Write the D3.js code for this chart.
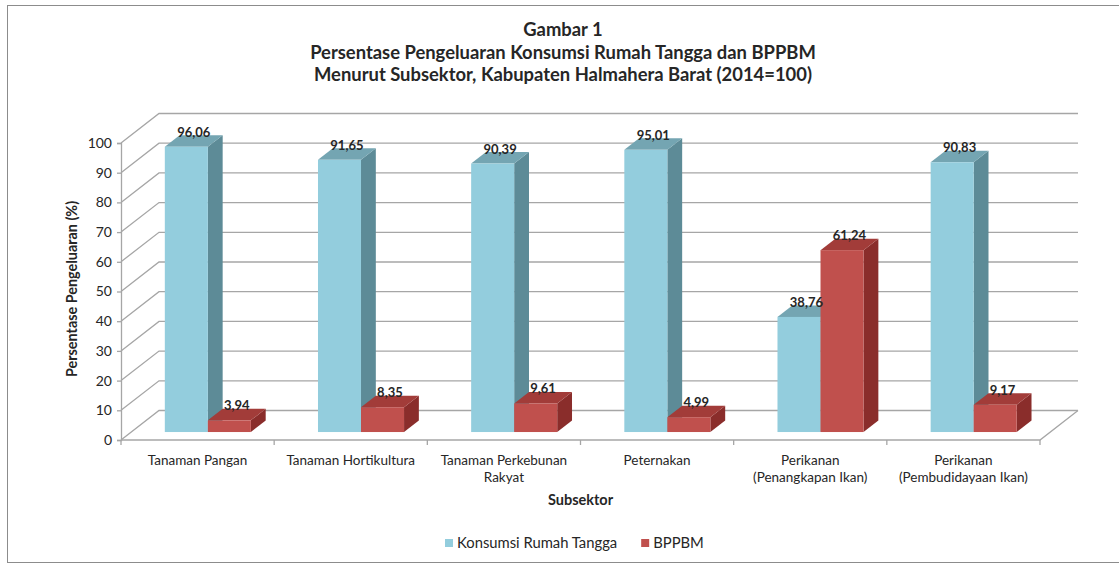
<!DOCTYPE html>
<html>
<head>
<meta charset="utf-8">
<script src="https://cdn.jsdelivr.net/npm/d3@7"></script>
<style>
  body { margin: 0; background: #fff; }
  text { font-family: Lato, "Open Sans", sans-serif; fill: #262626; }
</style>
</head>
<body>
<div id="chart"></div>
<script>
// data
var categories = [
  ["Tanaman Pangan"],
  ["Tanaman Hortikultura"],
  ["Tanaman Perkebunan", "Rakyat"],
  ["Peternakan"],
  ["Perikanan", "(Penangkapan Ikan)"],
  ["Perikanan", "(Pembudidayaan Ikan)"]
];
var seriesNames = ["Konsumsi Rumah Tangga", "BPPBM"];
var konsumsi = [96.06, 91.65, 90.39, 95.01, 38.76, 90.83];
var bppbm = [3.94, 8.35, 9.61, 4.99, 61.24, 9.17];
var yTicks = [0, 10, 20, 30, 40, 50, 60, 70, 80, 90, 100];
var titleLines = [
  "Gambar 1",
  "Persentase Pengeluaran Konsumsi Rumah Tangga dan BPPBM",
  "Menurut Subsektor, Kabupaten Halmahera Barat (2014=100)"
];

var width = 1119, height = 564;
var plot = { left: 121, right: 1040, bottom: 440, top: 143 };
var depth = { dx: 38, dy: -29.5 };   // back wall offset
var barDepth = [0.27, 0.66];          // bars sit inside the box

var colors = {
  "Konsumsi Rumah Tangga": { front: "#93cddd", side: "#5d8b97", top: "#74a5b2" },
  "BPPBM": { front: "#c0504d", side: "#8a2d2b", top: "#a23c39" }
};

var svg = d3.select("#chart").append("svg")
    .attr("width", width)
    .attr("height", height);

svg.append("rect")
    .attr("x", 7.5).attr("y", 5.5)
    .attr("width", 1120).attr("height", 557)
    .attr("fill", "#fff")
    .attr("stroke", "#8c8c8c");

var y = d3.scaleLinear().domain([0, 100]).range([plot.bottom, plot.top]);
var x0 = d3.scaleBand()
    .domain(d3.range(categories.length))
    .range([plot.left, plot.right]);
var x1 = d3.scaleBand()
    .domain(seriesNames)
    .range([0, x0.bandwidth()])
    .paddingOuter(0.78);

function off(d) { return [d * depth.dx, d * depth.dy]; }

// walls: side wall diagonals + back wall gridlines
var grid = svg.append("g").attr("stroke", "#a6a6a6").attr("stroke-width", 1.3).attr("fill", "none");
yTicks.forEach(function (t) {
  var b = off(1);
  grid.append("path")
      .attr("d", "M" + plot.left + "," + y(t) +
                 "L" + (plot.left + b[0]) + "," + (y(t) + b[1]) +
                 "L" + (plot.right + b[0]) + "," + (y(t) + b[1]));
});
// floor right edge and front edge
grid.append("path")
    .attr("d", "M" + plot.left + "," + y(0) + "L" + plot.right + "," + y(0) +
               "L" + (plot.right + depth.dx) + "," + (y(0) + depth.dy));

// front y axis
var yAxis = svg.append("g")
    .attr("transform", "translate(" + plot.left + ",0)")
    .call(d3.axisLeft(y).tickValues(yTicks).tickSize(4).tickPadding(5));
yAxis.select(".domain").attr("stroke", "#a6a6a6").attr("stroke-width", 1.3);
yAxis.selectAll(".tick line").attr("stroke", "#a6a6a6").attr("stroke-width", 1.3);
yAxis.selectAll(".tick text")
    .style("font-family", "Lato, sans-serif")
    .style("font-size", "14px")
    .attr("fill", "#262626");

// category ticks on the front floor edge
svg.append("g").selectAll("line")
    .data(d3.range(categories.length + 1))
    .enter().append("line")
    .attr("x1", function (i) { return plot.left + i * x0.bandwidth(); })
    .attr("x2", function (i) { return plot.left + i * x0.bandwidth(); })
    .attr("y1", y(0)).attr("y2", y(0) + 5)
    .attr("stroke", "#a6a6a6").attr("stroke-width", 1.3);

// bars
var rows = categories.map(function (c, i) {
  return [
    { cat: i, name: seriesNames[0], value: konsumsi[i] },
    { cat: i, name: seriesNames[1], value: bppbm[i] }
  ];
});

var f = off(barDepth[0]), b = off(barDepth[1]);
var sd = [b[0] - f[0], b[1] - f[1]];

rows.forEach(function (pair) {
  pair.forEach(function (d) {
    var xl = x0(d.cat) + x1(d.name) + f[0];
    var xr = xl + x1.bandwidth();
    var yb = y(0) + f[1];
    var yt = y(d.value) + f[1];
    var g = svg.append("g");
    // side face
    g.append("path")
        .attr("d", "M" + xr + "," + yb + "L" + (xr + sd[0]) + "," + (yb + sd[1]) +
                   "L" + (xr + sd[0]) + "," + (yt + sd[1]) + "L" + xr + "," + yt + "Z")
        .attr("fill", colors[d.name].side);
    // top face
    g.append("path")
        .attr("d", "M" + xl + "," + yt + "L" + xr + "," + yt +
                   "L" + (xr + sd[0]) + "," + (yt + sd[1]) + "L" + (xl + sd[0]) + "," + (yt + sd[1]) + "Z")
        .attr("fill", colors[d.name].top);
    // front face
    g.append("rect")
        .attr("x", xl).attr("y", yt)
        .attr("width", xr - xl).attr("height", yb - yt)
        .attr("fill", colors[d.name].front);
    d.lx = (xl + xr) / 2 + sd[0] / 2;
    d.ly = yt - 10;
  });
});

// data labels
rows.forEach(function (pair) {
  pair.forEach(function (d) {
    svg.append("text")
        .attr("x", d.lx).attr("y", d.ly)
        .attr("text-anchor", "middle")
        .style("font-size", "13px")
        .style("font-weight", "bold")
        .text(d3.format(".2f")(d.value).replace(".", ","));
  });
});

// category labels
var catText = svg.append("g").selectAll("text")
    .data(categories)
    .enter().append("text")
    .attr("x", function (c, i) { return x0(i) + x0.bandwidth() / 2; })
    .attr("y", 465)
    .attr("text-anchor", "middle")
    .style("font-size", "13.5px")
    .attr("fill", "#262626");
catText.selectAll("tspan")
    .data(function (c) { return c; })
    .enter().append("tspan")
    .attr("x", function () { return d3.select(this.parentNode).attr("x"); })
    .attr("dy", function (l, i) { return i === 0 ? 0 : 17; })
    .text(function (l) { return l; });

// axis titles
svg.append("text")
    .attr("x", (plot.left + plot.right) / 2).attr("y", 505)
    .attr("text-anchor", "middle")
    .style("font-size", "14.5px").style("font-weight", "bold")
    .text("Subsektor");

svg.append("text")
    .attr("transform", "translate(77,289) rotate(-90)")
    .attr("text-anchor", "middle")
    .style("font-size", "14.4px").style("font-weight", "bold")
    .text("Persentase Pengeluaran (%)");

// title
svg.append("g").selectAll("text")
    .data(titleLines)
    .enter().append("text")
    .attr("x", 563)
    .attr("y", function (t, i) { return 36 + i * 22.5; })
    .attr("text-anchor", "middle")
    .style("font-size", "18.4px").style("font-weight", "bold")
    .text(function (t) { return t; });

// legend
var legend = svg.append("g").attr("transform", "translate(445,548)");
var lx = 0;
seriesNames.forEach(function (s) {
  legend.append("rect")
      .attr("x", lx).attr("y", -9)
      .attr("width", 8).attr("height", 8)
      .attr("fill", colors[s].front);
  var t = legend.append("text")
      .attr("x", lx + 12).attr("y", 0)
      .style("font-size", "14.8px")
      .text(s);
  lx += 12 + t.node().getComputedTextLength() + 24;
});
</script>
</body>
</html>
